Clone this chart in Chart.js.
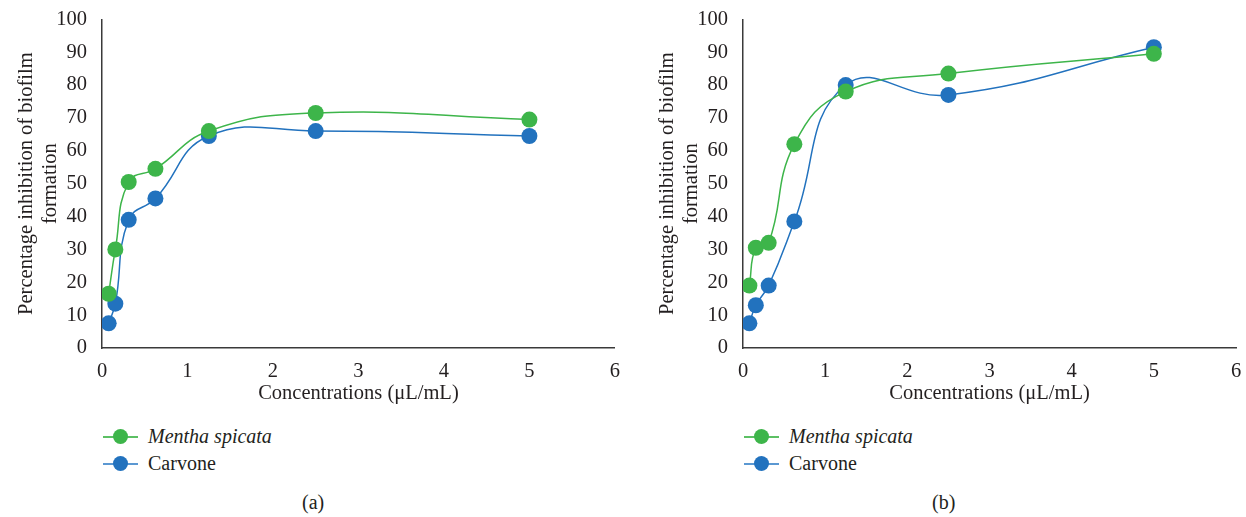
<!DOCTYPE html>
<html>
<head>
<meta charset="utf-8">
<script src="https://cdn.jsdelivr.net/npm/chart.js"></script>
<style>
  body { margin: 0; background: #fff; width: 1246px; height: 517px; overflow: hidden; font-family: "Liberation Serif", "DejaVu Serif", serif; color: #231f20; }
  .panel { position: absolute; top: 0; height: 517px; }
  .panel canvas { position: absolute; left: 0; top: 0; }
  .legend { position: absolute; font-size: 20px; }
  .legend div { position: relative; height: 27px; line-height: 27px; padding-left: 45px; }
  .legend .ln { position: absolute; left: 0; top: 13px; width: 35px; height: 2px; }
  .legend .dot { position: absolute; left: 10px; top: 6px; width: 15px; height: 15px; border-radius: 50%; }
  .cap { position: absolute; font-size: 20px; top: 491px; }
</style>
</head>
<body>
<div class="panel" id="pa" style="left:0;width:623px">
  <canvas id="chartA" width="623" height="410"></canvas>
  <div class="legend" style="left:103px;top:423px">
    <div><span class="ln" style="background:#5cc064"></span><span class="dot" style="background:#3db54a"></span><i>Mentha spicata</i></div>
    <div><span class="ln" style="background:#5b98d2"></span><span class="dot" style="background:#2272be"></span>Carvone</div>
  </div>
  <div class="cap" style="left:302px">(a)</div>
</div>
<div class="panel" id="pb" style="left:641px;width:605px">
  <canvas id="chartB" width="605" height="410"></canvas>
  <div class="legend" style="left:103px;top:423px">
    <div><span class="ln" style="background:#5cc064"></span><span class="dot" style="background:#3db54a"></span><i>Mentha spicata</i></div>
    <div><span class="ln" style="background:#5b98d2"></span><span class="dot" style="background:#2272be"></span>Carvone</div>
  </div>
  <div class="cap" style="left:291px">(b)</div>
</div>
<script>
// concentrations (uL/mL)
const conc = [0.078, 0.156, 0.3125, 0.625, 1.25, 2.5, 5];

// (a)
const mentha_a = [16.5, 30, 50.5, 54.5, 66, 71.5, 69.5];
const carvone_a = [7.5, 13.5, 39, 45.5, 64.5, 66, 64.5];

// (b)
const mentha_b = [19, 30.5, 32, 62, 78, 83.5, 89.5];
const carvone_b = [7.5, 13, 19, 38.5, 80, 77, 91.5];

const green = '#3db54a', blue = '#2272be';
const font = {family: '"Liberation Serif", "DejaVu Serif", serif', size: 20.5};

function pts(ys) { return ys.map((y, i) => ({x: conc[i], y: y})); }

function ds(label, ys, col) {
  return {
    label: label,
    data: pts(ys),
    showLine: true,
    borderColor: col,
    backgroundColor: col,
    borderWidth: 1.5,
    pointRadius: 8,
    pointHoverRadius: 8,
    pointBorderWidth: 0,
    tension: 0.45
  };
}

function makeChart(id, m, c, rightPad) {
  new Chart(document.getElementById(id), {
    type: 'scatter',
    data: {datasets: [ds('Mentha spicata', m, green), ds('Carvone', c, blue)]},
    options: {
      responsive: false,
      animation: false,
      layout: {padding: {top: 15, right: rightPad, left: 0, bottom: 0}},
      plugins: {legend: {display: false}, tooltip: {enabled: false}},
      scales: {
        x: {
          type: 'linear', min: 0, max: 6,
          ticks: {stepSize: 1, color: '#231f20', font: font, padding: 3},
          grid: {display: false},
          border: {display: true, color: '#3a3a3a', width: 1.5},
          title: {display: true, text: 'Concentrations (μL/mL)', color: '#231f20', font: font, padding: {top: 0}},
          afterFit: s => { s.height = 62; }
        },
        y: {
          min: 0, max: 100,
          ticks: {stepSize: 10, color: '#231f20', font: font, padding: 7},
          grid: {display: false},
          border: {display: true, color: '#3a3a3a', width: 1.5},
          title: {display: true, text: ['Percentage inhibition of biofilm', 'formation'], color: '#231f20', font: font, padding: {top: 14, bottom: 0}},
          afterFit: s => { s.width = 102; }
        }
      }
    }
  });
}

makeChart('chartA', mentha_a, carvone_a, 6);
makeChart('chartB', mentha_b, carvone_b, 10);
</script>
</body>
</html>
